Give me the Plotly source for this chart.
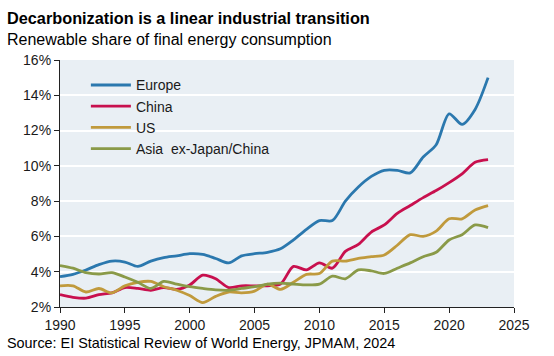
import plotly.graph_objects as go

years = list(range(1990, 2024))

europe = [3.72, 3.85, 4.1, 4.4, 4.6, 4.55, 4.3, 4.6, 4.8, 4.9, 5.02, 4.98, 4.75, 4.5, 4.9, 5.02,
          5.1, 5.3, 5.8, 6.4, 6.9, 6.9, 8.0, 8.8, 9.4, 9.75, 9.75, 9.6, 10.5, 11.2, 12.95, 12.35,
          13.2, 15.0]
china = [2.7, 2.55, 2.5, 2.7, 2.8, 3.1, 3.05, 2.95, 3.1, 3.0, 3.25, 3.8, 3.6, 3.1, 3.2, 3.2,
         3.2, 3.3, 4.3, 4.1, 4.5, 4.2, 5.15, 5.55, 6.25, 6.65, 7.3, 7.75, 8.2, 8.6, 9.05, 9.55,
         10.2, 10.35]
us = [3.2, 3.2, 2.85, 3.05, 2.8, 3.2, 3.4, 3.45, 3.15, 2.95, 2.65, 2.25, 2.6, 2.85, 2.8, 2.9,
      3.3, 3.0, 3.4, 3.85, 3.9, 4.6, 4.6, 4.75, 4.85, 4.95, 5.5, 6.1, 6.0, 6.3, 7.0, 7.0,
      7.5, 7.75]
asia = [4.35, 4.2, 3.95, 3.87, 3.95, 3.7, 3.4, 3.05, 3.45, 3.3, 3.15, 3.05, 2.97, 2.95, 3.05, 3.15,
        3.3, 3.35, 3.3, 3.25, 3.3, 3.75, 3.6, 4.1, 4.05, 3.9, 4.2, 4.5, 4.85, 5.1, 5.8, 6.1,
        6.65, 6.5]

series_names = ["Europe", "China", "US", "Asia  ex-Japan/China"]
series_values = [europe, china, us, asia]
series_colors = ["#2B78AE", "#C8104E", "#C09A3C", "#8A9A48"]

y_ticks = [2, 4, 6, 8, 10, 12, 14, 16]
y_tick_labels = [f"{v}%" for v in y_ticks]
x_ticks = [1990, 1995, 2000, 2005, 2010, 2015, 2020, 2025]

FONT = "Liberation Sans, Arial, sans-serif"

fig = go.Figure()
for name, vals, col in zip(series_names, series_values, series_colors):
    fig.add_trace(go.Scatter(x=years, y=vals, name=name, mode="lines",
                             line=dict(color=col, width=2.8, shape="spline", smoothing=0.8)))

fig.update_layout(
    width=554, height=356,
    margin=dict(l=60, r=40, t=60, b=49),
    paper_bgcolor="white",
    plot_bgcolor="#E9EFF4",
    font=dict(family=FONT, size=14, color="#1a1a1a"),
    showlegend=True,
    legend=dict(x=0.057, y=0.962, xanchor="left", yanchor="top",
                bgcolor="rgba(0,0,0,0)", font=dict(size=14, family=FONT, color="#1a1a1a"),
                itemwidth=40, tracegroupgap=0),
    xaxis=dict(range=[1990, 2025], tickvals=x_ticks, showgrid=False, zeroline=False,
               showline=True, linecolor="#222", linewidth=1.2, ticks="outside",
               ticklen=5, tickcolor="#222", tickfont=dict(size=14, family=FONT)),
    yaxis=dict(range=[2, 16], tickvals=y_ticks, ticktext=y_tick_labels, showgrid=True,
               gridcolor="white", gridwidth=1.5, zeroline=False, showline=True,
               linecolor="#222", linewidth=1.2, ticks="outside", ticklen=5,
               tickcolor="#222", tickfont=dict(size=14, family=FONT)),
    annotations=[
        dict(text="<b>Decarbonization is a linear industrial transition</b>", xref="paper", yref="paper",
             x=-0.121, y=1.17, xanchor="left", yanchor="middle", showarrow=False,
             font=dict(size=16.3, family=FONT, color="black")),
        dict(text="Renewable share of final energy consumption", xref="paper", yref="paper",
             x=-0.121, y=1.085, xanchor="left", yanchor="middle", showarrow=False,
             font=dict(size=16, family=FONT, color="black")),
        dict(text="Source: EI Statistical Review of World Energy, JPMAM, 2024", xref="paper", yref="paper",
             x=-0.121, y=-0.146, xanchor="left", yanchor="middle", showarrow=False,
             font=dict(size=14.4, family=FONT, color="black")),
    ],
)

fig.write_html("out.html", config={"displayModeBar": False},
               post_script="document.body.style.margin='0px';document.body.style.overflow='hidden';")
